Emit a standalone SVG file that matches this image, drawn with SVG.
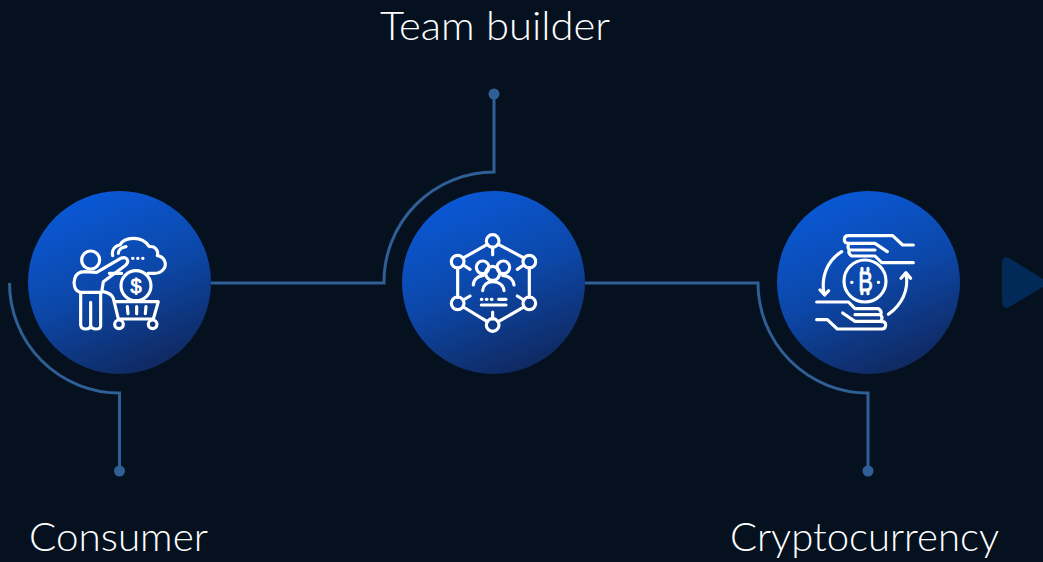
<svg xmlns="http://www.w3.org/2000/svg" width="1043" height="562" viewBox="0 0 1043 562">
<style>
.label{font-family:"Lato","Open Sans","Liberation Sans",sans-serif;font-size:39px;font-weight:300;fill:#fff}
.conn{fill:none;stroke:#2f5f95;stroke-width:3}
.dot{fill:#2f5f95}
.disc{fill:url(#discGrad)}
.ico{fill:none;stroke:#fff;stroke-width:9.500;stroke-linecap:round;stroke-linejoin:round}
.glyph{font-family:"Liberation Sans",sans-serif;font-weight:400;fill:#fff;stroke:#fff;stroke-width:2.500;text-anchor:middle}
</style>
<defs>
<linearGradient id="discGrad" x1="0.300" y1="0" x2="0.700" y2="1">
<stop offset="0" stop-color="#0a59d8"/><stop offset="0.5" stop-color="#0c47a8"/><stop offset="1" stop-color="#10275c"/>
</linearGradient>
</defs>
<rect width="1043" height="562" fill="#05111f"/>
<g id="connectors">
<path class="conn" d="M9.500,283 A110,110 0 0 0 119.500,393 L119.500,471"/>
<path class="conn" d="M211,283 L384,283 A110,110 0 0 1 494,172 L494,94"/>
<path class="conn" d="M585,283 L758,283 A110,110 0 0 0 868,393 L868,471"/>
<circle class="dot" cx="119.500" cy="471" r="5.500"/>
<circle class="dot" cx="494" cy="94" r="5.500"/>
<circle class="dot" cx="868" cy="471" r="5.500"/>
</g>
<g id="node-consumer">
<circle class="disc" cx="119.500" cy="282.500" r="91.500"/>
<g transform="translate(50,215) scale(.3333)">
<circle class="ico" cx="122" cy="135" r="27"/>
<path class="ico" d="M152,332 L152,232 L92,232 C72,228 70,205 74,192 C78,175 92,170 104,170 L140,172 L212,130 C232,122 240,140 225,152 L160,200 L155,232 M92,232 L92,330 Q94,342 107,342 Q122,342 122,330 L122,262 L122,330 Q124,342 137,342 Q152,342 152,332"/>
<path class="ico" d="M188,122 C184,104 195,92 210,90 C222,66 275,60 298,95 C316,92 326,108 322,122 C345,125 352,150 340,163 C332,174 322,175 312,175 L294,175 M178,175 L215,175 M205,115 C205,105 215,97 228,95"/>
<path class="ico" stroke-dasharray="1 14" d="M248,130 L292,130"/>
<circle class="ico" cx="258" cy="212" r="45"/>
<text class="glyph" x="258" y="234" font-size="60">$</text>
<path class="ico" d="M160,230 Q185,235 190,250 L205,312 L310,312 L325,260 L195,260 M232,275 L234,296 M260,275 L260,296 M288,275 L286,296"/>
<circle class="ico" cx="207" cy="328" r="13"/>
<circle class="ico" cx="308" cy="328" r="13"/>
</g>
<text class="label" x="29" y="551" textLength="179" lengthAdjust="spacingAndGlyphs">Consumer</text>
</g>
<g id="node-team-builder">
<circle class="disc" cx="493.500" cy="282.500" r="91.500"/>
<g transform="translate(430,220) scale(.3333)">
<circle class="ico" cx="188" cy="63" r="19"/>
<circle class="ico" cx="83" cy="125" r="19"/>
<circle class="ico" cx="298" cy="125" r="19"/>
<circle class="ico" cx="83" cy="250" r="19"/>
<circle class="ico" cx="298" cy="250" r="19"/>
<circle class="ico" cx="188" cy="315" r="19"/>
<path class="ico" d="M172,73 L100,114 M205,73 L282,114 M83,143 L83,232 M298,143 L298,232 M100,261 L172,305 M282,261 L205,305 M188,81 L188,104 M100,135 L120,148 M281,135 L262,148 M100,240 L120,228 M281,240 L262,228 M188,297 L188,276"/>
<circle class="ico" cx="158" cy="142" r="19"/>
<circle class="ico" cx="220" cy="142" r="19"/>
<circle class="ico" cx="188" cy="160" r="21"/>
<path class="ico" d="M158,212 C160,195 172,185 188,185 C206,185 220,195 222,212 M130,195 C130,180 142,168 160,166 M252,195 C250,180 238,168 218,166"/>
<path class="ico" d="M154,238 L156,238 M169,238 L171,238 M184,238 L186,238 M206,238 L228,238 M154,255 L228,255"/>
</g>
<text class="label" x="380" y="40" textLength="230" lengthAdjust="spacingAndGlyphs">Team builder</text>
</g>
<g id="node-cryptocurrency">
<circle class="disc" cx="868.500" cy="282.500" r="91.500"/>
<g transform="translate(800,220) scale(.3333)">
<circle class="ico" cx="195" cy="183" r="63"/>
<text class="glyph" x="197" y="214" font-size="84" textLength="44" lengthAdjust="spacingAndGlyphs">B</text>
<path class="ico" stroke-width="6" d="M186,145 L186,152 M204,145 L204,152 M186,214 L186,221 M204,214 L204,221"/>
<path class="ico" d="M155,187 L156,187 M235,187 L236,187"/>
<path class="ico" d="M125,95 C85,120 62,165 72,222 M60,210 L74,225 L86,212"/>
<path class="ico" d="M265,283 C305,255 328,210 318,160 M303,175 L318,158 L332,175"/>
<g id="hand-top">
<path class="ico" d="M340,75 L308,75 L278,47 L145,47 Q133,47 133,60 Q133,70 148,70 L225,70 L262,95 M148,70 Q140,80 148,90 L225,90 M148,90 Q143,100 155,108 L225,108 L245,128 L340,128"/>
</g>
<g transform="rotate(180 195 187)">
<path class="ico" d="M340,75 L308,75 L278,47 L145,47 Q133,47 133,60 Q133,70 148,70 L225,70 L262,95 M148,70 Q140,80 148,90 L225,90 M148,90 Q143,100 155,108 L225,108 L245,128 L340,128"/>
</g>
</g>
<text class="label" x="730" y="551" textLength="269" lengthAdjust="spacingAndGlyphs">Cryptocurrency</text>
</g>
<path id="next-arrow" d="M1002,264 Q1002,254 1011,259 L1043,279 L1043,287 L1011,306 Q1002,311 1002,301 Z" fill="#012a58"/>
</svg>
